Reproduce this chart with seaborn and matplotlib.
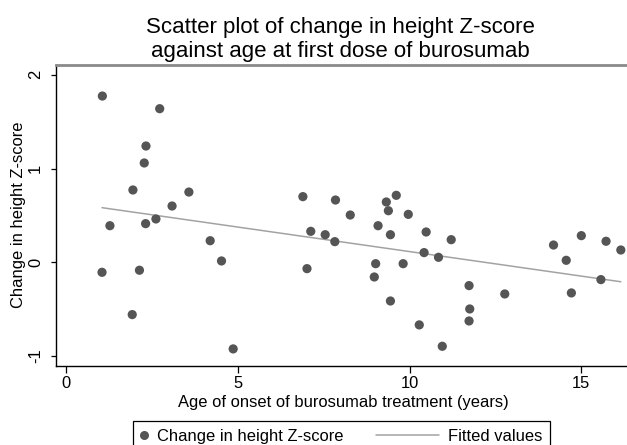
import matplotlib
matplotlib.use("Agg")
import matplotlib.pyplot as plt
import seaborn as sns
import pandas as pd
import numpy as np
from matplotlib.lines import Line2D
from matplotlib.legend_handler import HandlerLine2D

age_years = [1.05, 1.04, 1.27, 1.94, 1.92, 2.13, 2.32, 2.27, 2.31, 2.61, 2.72, 3.08, 3.57,
             4.19, 4.52, 4.86, 6.89, 7.01, 7.12, 7.54, 7.82, 7.84, 8.27, 8.97, 9.01, 9.08,
             9.32, 9.38, 9.44, 9.44, 9.61, 9.81, 9.96, 10.28, 10.42, 10.48, 10.84, 10.95,
             11.21, 11.73, 11.75, 11.73, 12.77, 14.19, 14.56, 14.71, 15.00, 15.57, 15.72, 16.15]
height_z_change = [1.773, -0.107, 0.39, 0.771, -0.558, -0.085, 1.24, 1.059, 0.412, 0.462, 1.638,
                   0.600, 0.749, 0.23, 0.014, -0.924, 0.70, -0.068, 0.33, 0.294, 0.22, 0.664,
                   0.504, -0.157, -0.015, 0.39, 0.643, 0.55, 0.294, -0.413, 0.714, -0.015, 0.511,
                   -0.668, 0.103, 0.323, 0.053, -0.896, 0.241, -0.249, -0.498, -0.626, -0.338,
                   0.184, 0.021, -0.327, 0.284, -0.185, 0.224, 0.131]
x_ticks = [0, 5, 10, 15]
y_ticks = [-1, 0, 1, 2]
legend_labels = ["Change in height Z-score", "Fitted values"]

df = pd.DataFrame({"age": age_years, "dz": height_z_change})

sns.set_theme(style="white")
plt.rcParams["font.family"] = ["Liberation Sans", "DejaVu Sans"]
for k in ["text.color", "axes.labelcolor", "xtick.color", "ytick.color"]:
    plt.rcParams[k] = "black"

POINT_COLOR = "#555555"
LINE_COLOR = "#a3a3a3"

W, H = 627, 445
fig = plt.figure(figsize=(W / 100, H / 100), dpi=100)
left, right, top, bottom = 55.7, 627, 65.0, 365.5
ax = fig.add_axes([left / W, 1 - bottom / H, (right - left) / W, (bottom - top) / H])

sns.scatterplot(data=df, x="age", y="dz", ax=ax, color=POINT_COLOR, s=44,
                edgecolor="none", legend=False, zorder=3)
sns.regplot(data=df, x="age", y="dz", ax=ax, scatter=False, ci=None, truncate=True,
            line_kws=dict(color=LINE_COLOR, lw=1.1, zorder=2))

ax.set_xlim(-0.309, 16.33)
ax.set_ylim(-1.101, 2.104)
ax.set_xticks(x_ticks)
ax.set_yticks(y_ticks)
ax.set_xticklabels([str(t) for t in x_ticks], fontsize=11.9)
ax.set_yticklabels([str(t) for t in y_ticks], fontsize=11.9, rotation=90, va="center")
ax.tick_params(axis="x", direction="out", length=5, width=0.9, color="black",
               bottom=True, pad=2.5)
ax.tick_params(axis="y", direction="out", length=3.6, width=0.9, color="black",
               left=True, pad=5.5)
ax.set_xlabel("Age of onset of burosumab treatment (years)", fontsize=11.9)
ax.set_ylabel("Change in height Z-score", fontsize=11.9)
ax.xaxis.set_label_coords(0.504, -0.097)
ax.yaxis.set_label_coords(-0.0513, 0.5008)

for s in ["left", "bottom"]:
    ax.spines[s].set_color("black")
    ax.spines[s].set_linewidth(1.0)
ax.spines["top"].set_color("#8a8a8a")
ax.spines["top"].set_linewidth(2.0)
ax.spines["right"].set_visible(False)

fig.text(340 / W, 1 - 33.3 / H, "Scatter plot of change in height Z-score",
         ha="center", va="baseline", fontsize=16)
fig.text(340 / W, 1 - 57.3 / H, "against age at first dose of burosumab",
         ha="center", va="baseline", fontsize=16)


class HandlerLongLine(HandlerLine2D):
    def create_artists(self, legend, orig_handle, xdescent, ydescent, width, height,
                       fontsize, trans):
        y = (height - ydescent) / 2
        x1 = -xdescent + width
        x0 = x1 - 45.4
        line = Line2D([x0, x1], [y, y])
        self.update_prop(line, orig_handle, legend)
        line.set_transform(trans)
        return [line]


marker_handle = Line2D([], [], marker="o", linestyle="none", color=POINT_COLOR,
                       markersize=6.5, markeredgewidth=0)
line_handle = Line2D([], [], color=LINE_COLOR, lw=1.1)
leg = fig.legend([marker_handle, line_handle], legend_labels, loc="upper left",
                 bbox_to_anchor=(133.3 / W, 1 - 421 / H), ncol=2, frameon=True,
                 fancybox=False, fontsize=11.9, columnspacing=5.4, handlelength=0.4,
                 borderpad=0.47, handletextpad=0.55, borderaxespad=0, numpoints=1,
                 handler_map={line_handle: HandlerLongLine()})
leg.get_frame().set_edgecolor("black")
leg.get_frame().set_linewidth(0.9)
leg.get_frame().set_facecolor("white")
leg.get_frame().set_alpha(1)

fig.savefig("out.png", dpi=100)
